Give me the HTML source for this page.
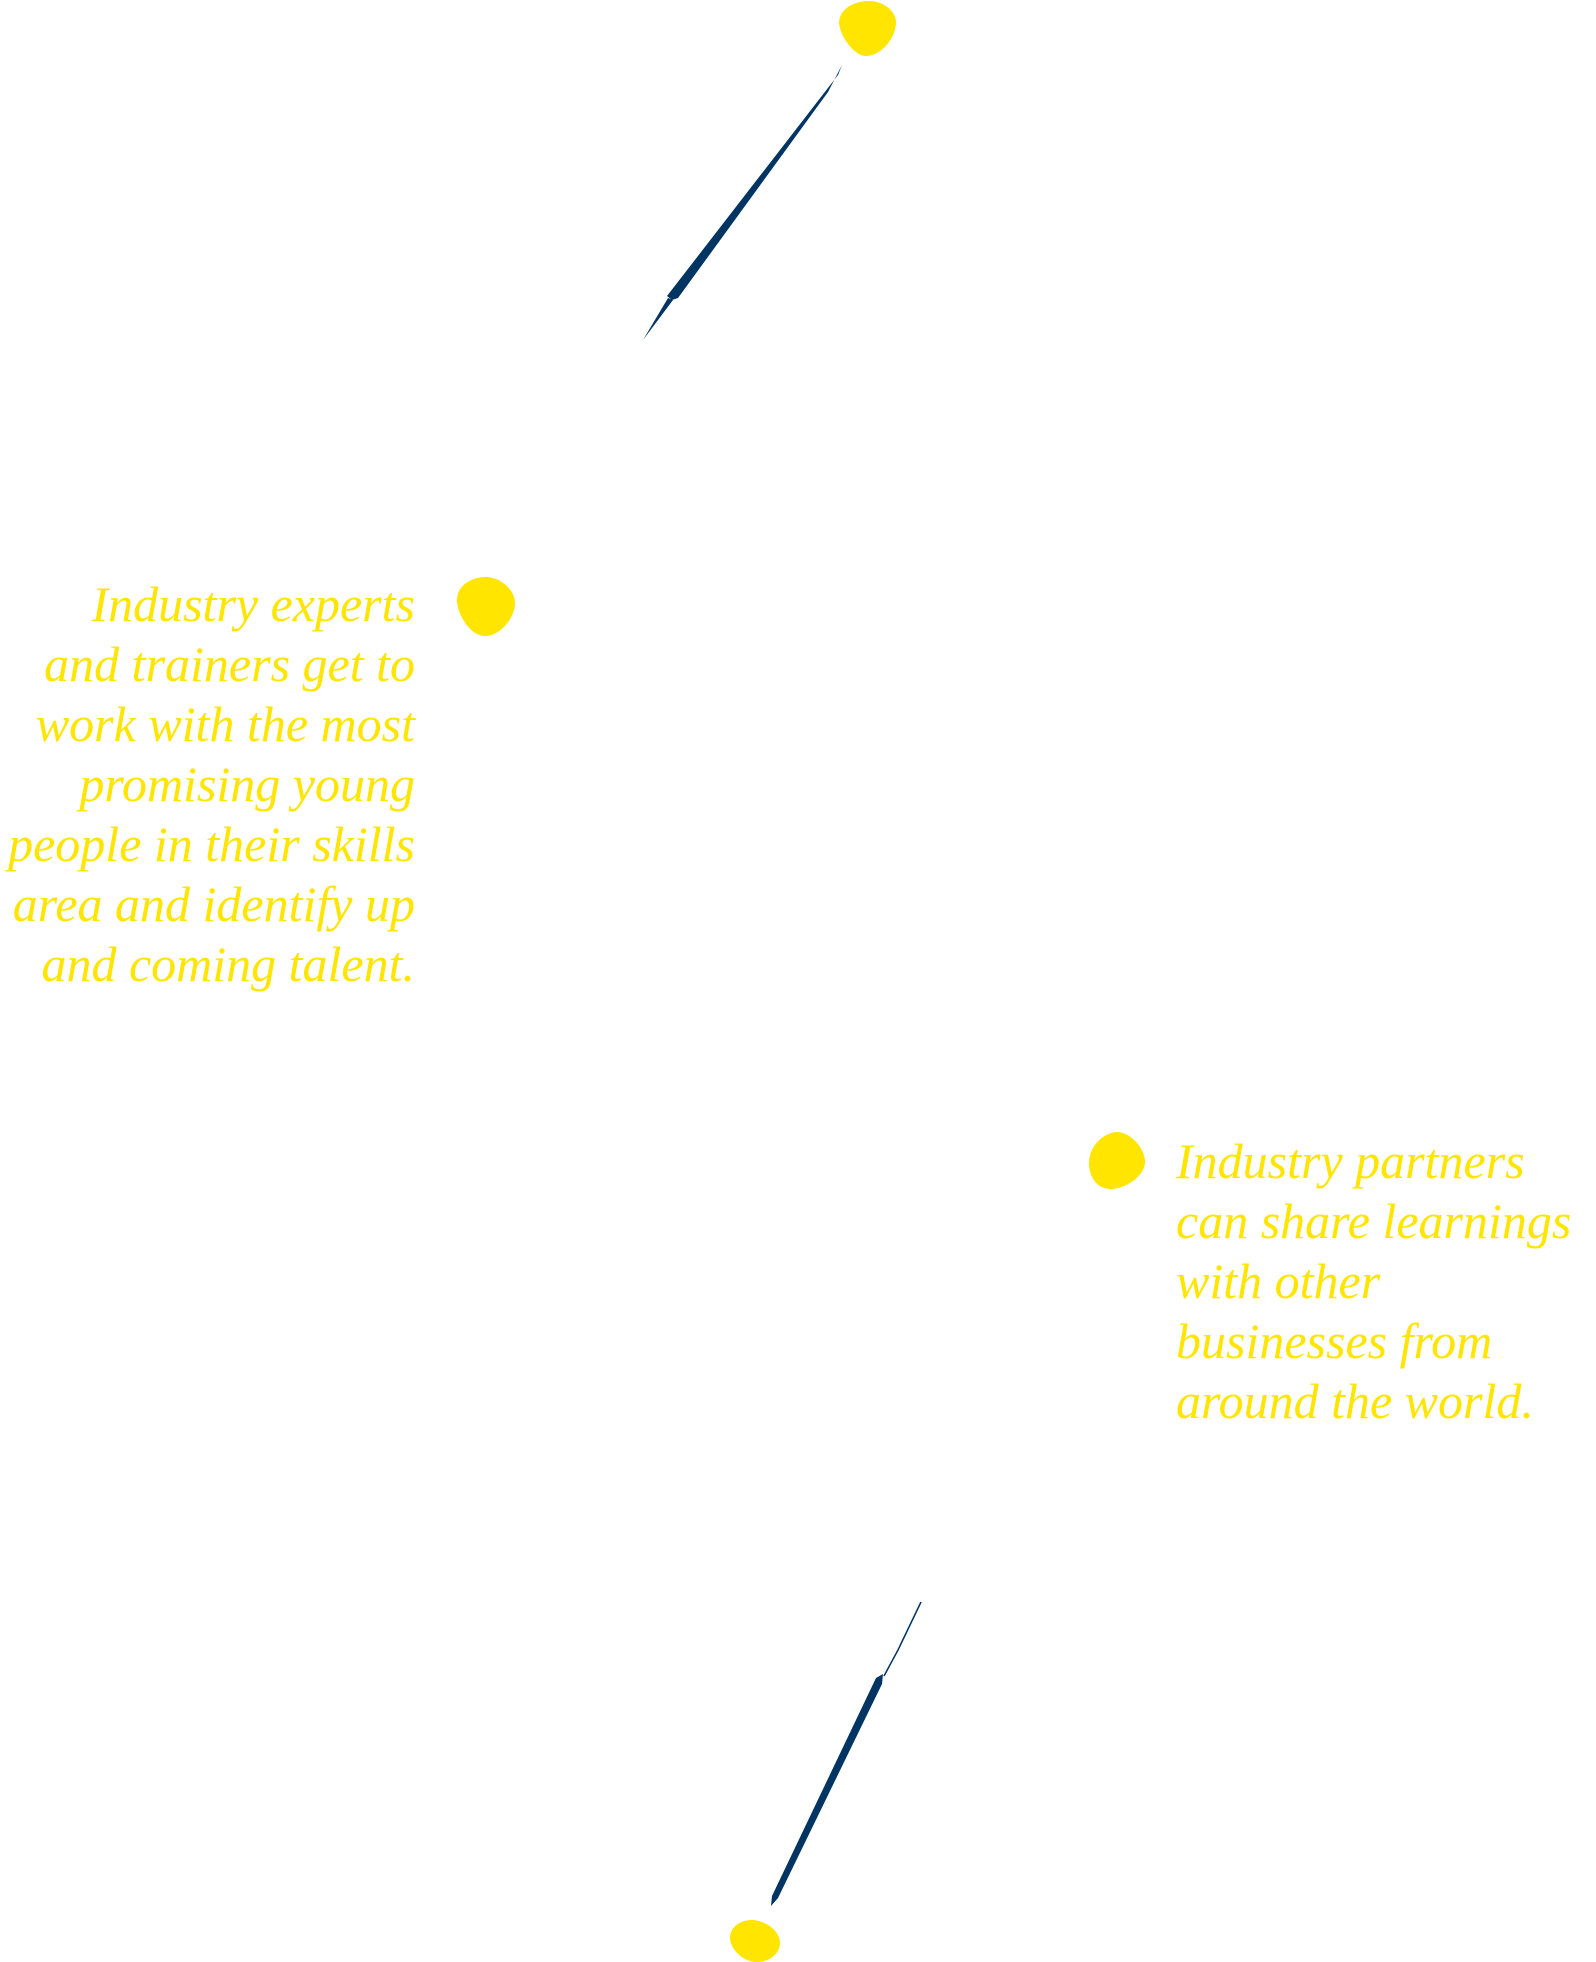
<!DOCTYPE html>
<html><head><meta charset="utf-8"><style>
html,body{margin:0;padding:0;background:#fff;}
body{width:1596px;height:1962px;position:relative;overflow:hidden;}
.t{position:absolute;font-family:"Liberation Serif",serif;font-style:italic;color:#ffe500;font-size:50px;line-height:60px;white-space:nowrap;}
svg{position:absolute;left:0;top:0;}
</style></head><body>
<svg width="1596" height="1962" viewBox="0 0 1596 1962">
<g fill="#ffe500">
<path d="M867 1 C884 0 896 12 896 22 C896 38 881 56 866 56 C854 56 840 36 839 23 C839 10 852 2 867 1Z"/>
<path d="M484 577 C500 576 515 590 515 603 C515 618 500 636 485 636 C470 636 457 614 457 600 C457 586 470 578 484 577Z"/>
<path d="M1117 1132 C1130 1132 1145 1148 1145 1162 C1145 1176 1125 1189 1111 1189 C1096 1189 1089 1176 1089 1163 C1089 1145 1105 1132 1117 1132Z"/>
<path d="M752 1920 C764 1920 780 1930 780 1943 C780 1953 770 1962 757 1962 C742 1962 730 1948 730 1938 C730 1927 740 1920 752 1920Z"/>
</g>
<g fill="#003462">
<path d="M842 65 L838 75 L667 296 L672 300 L678 298 L828 92 Z"/>
<path d="M668 298 L673 300 L643 340 Z"/>
<path d="M883 1674 L876 1678 L772 1896 L771 1906 L778 1898 L882 1684 Z"/>
</g>
<path d="M921 1602 L898 1650 L884 1676" stroke="#003462" stroke-width="1.5" fill="none"/>
</svg>
<div class="t" style="right:1181px;top:574px;text-align:right;">Industry experts<br>and trainers get to<br>work with the most<br>promising young<br>people in their skills<br>area and identify up<br>and coming talent.</div>
<div class="t" style="left:1176px;top:1131px;">Industry partners<br>can share learnings<br>with other<br>businesses from<br>around the world.</div>
</body></html>
